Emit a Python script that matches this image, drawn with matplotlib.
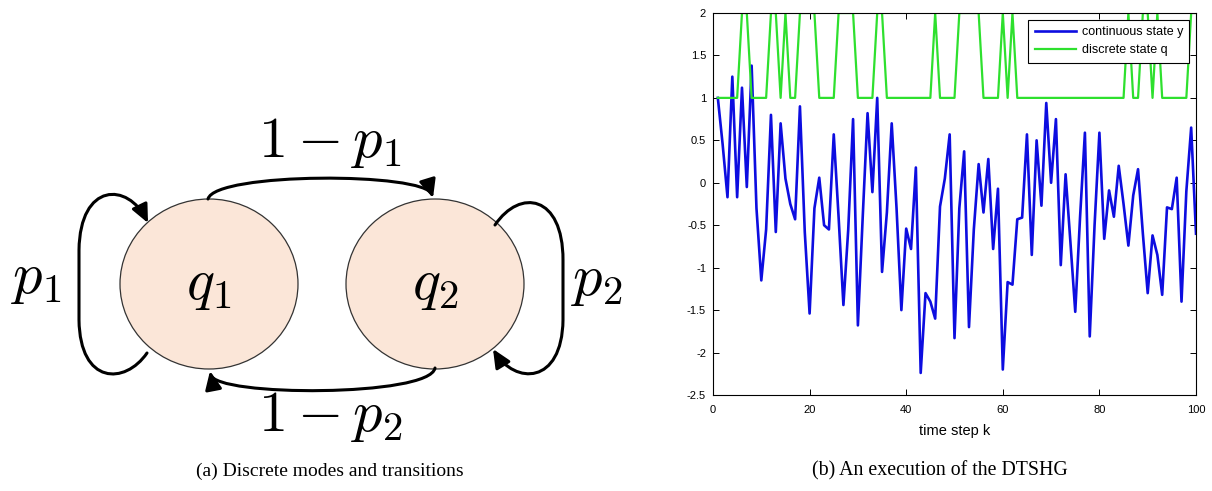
# диаграмма режимов (слева) и траектория DTSHG (справа)
import matplotlib
matplotlib.use('Agg')
import matplotlib.pyplot as plt
from matplotlib.patches import Ellipse, FancyArrowPatch
from matplotlib.path import Path

# ---- данные ----
k = list(range(1, 101))
y_cont = [1.0, 0.45, -0.17, 1.25, -0.17, 1.12, -0.05, 1.38, -0.3, -1.15,
          -0.55, 0.8, -0.58, 0.7, 0.05, -0.25, -0.43, 0.9, -0.58, -1.54,
          -0.3, 0.06, -0.5, -0.55, 0.57, -0.4, -1.44, -0.55, 0.75, -1.68,
          -0.4, 0.82, -0.11, 1.0, -1.05, -0.35, 0.7, -0.3, -1.5, -0.54,
          -0.78, 0.18, -2.24, -1.3, -1.4, -1.6, -0.28, 0.05, 0.57, -1.83,
          -0.3, 0.37, -1.7, -0.55, 0.22, -0.35, 0.28, -0.78, -0.07, -2.2,
          -1.17, -1.2, -0.43, -0.41, 0.57, -0.85, 0.5, -0.27, 0.94, 0.0,
          0.75, -0.97, 0.1, -0.7, -1.52, -0.4, 0.59, -1.81, -0.5, 0.59,
          -0.66, -0.09, -0.4, 0.2, -0.25, -0.74, -0.15, 0.16, -0.6, -1.3,
          -0.62, -0.85, -1.32, -0.29, -0.31, 0.06, -1.4, -0.1, 0.65, -0.6]
q_disc = [1, 1, 1, 1, 1, 2, 2, 1, 1, 1,
          1, 2, 2, 1, 2, 1, 1, 2, 2, 2,
          2, 1, 1, 1, 1, 2, 2, 2, 2, 1,
          1, 1, 1, 2, 2, 1, 1, 1, 1, 1,
          1, 1, 1, 1, 1, 2, 1, 1, 1, 1,
          2, 2, 2, 2, 2, 1, 1, 1, 1, 2,
          1, 2, 1, 1, 1, 1, 1, 1, 1, 1,
          1, 1, 1, 1, 1, 1, 1, 1, 1, 1,
          1, 1, 1, 1, 1, 2, 1, 1, 2, 2,
          1, 2, 1, 1, 1, 1, 1, 1, 2, 2]
x_ticks = [0, 20, 40, 60, 80, 100]
y_ticks = [-2.5, -2, -1.5, -1, -0.5, 0, 0.5, 1, 1.5, 2]
series_labels = ['continuous state y', 'discrete state q']
x_label = 'time step k'
node_labels = ['$q_1$', '$q_2$']
self_labels = ['$p_1$', '$p_2$']
cross_labels = ['$1-p_1$', '$1-p_2$']
captions = ['(a) Discrete modes and transitions', '(b) An execution of the DTSHG']

plt.rcParams['mathtext.fontset'] = 'cm'
plt.rcParams['axes.unicode_minus'] = False
sans = ['Liberation Sans', 'DejaVu Sans']
serif = ['Liberation Serif', 'DejaVu Serif']

W, H = 1212, 491
fig = plt.figure(figsize=(W / 100, H / 100), dpi=100)

# ---- левая панель: диаграмма (координаты в пикселях) ----
ax0 = fig.add_axes([0, 0, 1, 1])
ax0.set_xlim(0, W)
ax0.set_ylim(H, 0)
ax0.axis('off')

centers = [(209, 284), (435, 284)]
for (cx, cy), lab in zip(centers, node_labels):
    ax0.add_patch(Ellipse((cx, cy), 178, 170, facecolor='#fbe6d8',
                          edgecolor='#333333', lw=0.9, zorder=2))
    ax0.text(cx, cy, lab, fontsize=42, ha='center', va='center', zorder=3)


def arrow(verts):
    codes = [Path.MOVETO] + [Path.CURVE4] * (len(verts) - 1)
    p = FancyArrowPatch(path=Path(verts, codes),
                        arrowstyle='-|>,head_length=1.1,head_width=0.5',
                        mutation_scale=10, lw=2.2, color='black', zorder=4)
    ax0.add_patch(p)


# петля q1
arrow([(147, 353), (125, 385), (80, 385), (79, 320),
       (79, 300), (79, 270), (79, 250),
       (80, 182), (128, 182), (148, 223)])
# q1 -> q2
arrow([(208, 199), (215, 172), (425, 172), (433, 198)])
# петля q2
arrow([(495, 225), (520, 188), (563, 195), (563, 260),
       (563, 290), (563, 300), (563, 320),
       (562, 385), (515, 385), (493, 349)])
# q2 -> q1
arrow([(435, 368), (430, 397), (215, 397), (210, 371)])

ax0.text(36, 277, self_labels[0], fontsize=42, ha='center', va='center')
ax0.text(597, 280, self_labels[1], fontsize=42, ha='center', va='center')
ax0.text(330, 142, cross_labels[0], fontsize=42, ha='center', va='center')
ax0.text(330, 415, cross_labels[1], fontsize=42, ha='center', va='center')

# ---- правая панель: график ----
ax = fig.add_axes([713 / W, 1 - 395 / H, 483 / W, 382 / H])
ax.plot(k, y_cont, color='#0d0de0', lw=1.9, label=series_labels[0])
ax.plot(k, q_disc, color='#2ee02e', lw=1.6, label=series_labels[1])
ax.set_xlim(0, 100)
ax.set_ylim(-2.5, 2)
ax.set_xticks(x_ticks)
ax.set_yticks(y_ticks)
ax.set_yticklabels(['%g' % v for v in y_ticks])
ax.tick_params(direction='in', top=True, right=True, length=4, width=0.7,
               labelsize=8)
ax.tick_params(axis='x', pad=7)
ax.tick_params(axis='y', pad=5)
for lab in ax.get_xticklabels() + ax.get_yticklabels():
    lab.set_family(sans)
for sp in ax.spines.values():
    sp.set_linewidth(0.8)
ax.set_xlabel(x_label, fontsize=10.5, family=sans, labelpad=7)
leg = ax.legend(loc='upper right', frameon=True, fancybox=False,
                edgecolor='black', framealpha=1, handlelength=3.3,
                handletextpad=0.45, labelspacing=0.5, borderaxespad=0.55,
                borderpad=0.5, prop={'family': sans, 'size': 9})
leg.get_frame().set_linewidth(0.8)

# ---- подписи ----
fig.text(330 / W, 1 - 471 / H, captions[0], fontsize=14, ha='center',
         va='center', family=serif)
fig.text(940 / W, 1 - 471 / H, captions[1], fontsize=14.3, ha='center',
         va='center', family=serif)

plt.savefig('out.png', dpi=100)
